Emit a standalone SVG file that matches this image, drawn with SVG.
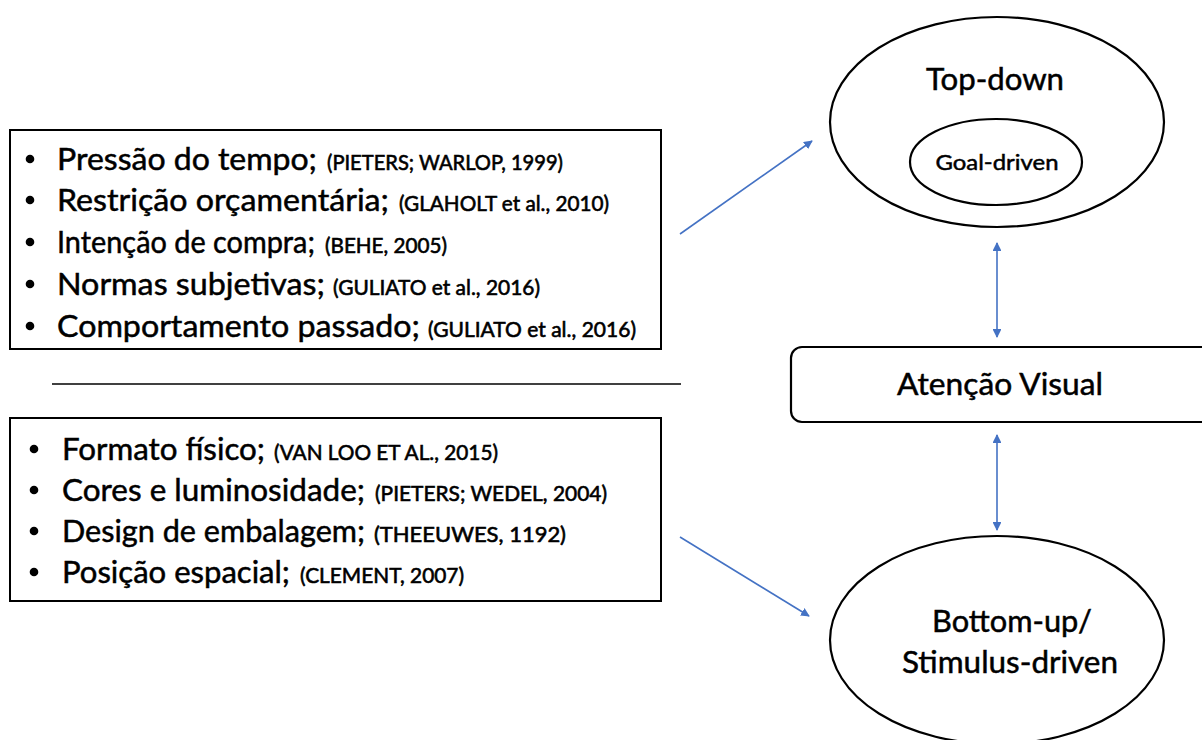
<svg xmlns="http://www.w3.org/2000/svg" width="1202" height="740" viewBox="0 0 1202 740">
  <style>
    .box { fill: #ffffff; stroke: #000000; stroke-width: 2; }
    .shape { fill: none; stroke: #000000; stroke-width: 2.2; }
    .t { font-family: Lato, "Liberation Sans", sans-serif; fill: #000000; stroke: #000000; stroke-width: 0.5; }
    .item { font-size: 31px; }
    .ref { font-size: 21px; stroke-width: 0.6; }
    .big { font-size: 31px; text-anchor: middle; }
    .mid { font-size: 22px; text-anchor: middle; }
    .conn { stroke: #4472C4; stroke-width: 1.6; fill: none; }
    .sep { stroke: #000000; stroke-width: 1.6; }
  </style>
  <defs>
    <marker id="head" viewBox="0 0 10 10" refX="9" refY="5" markerWidth="5.5" markerHeight="5.5" orient="auto-start-reverse" markerUnits="strokeWidth">
      <path d="M0,0 L10,5 L0,10 z" fill="#4472C4"/>
    </marker>
  </defs>

  <rect width="1202" height="740" fill="#ffffff"/>

  <!-- goal-driven factors -->
  <g id="top-factors">
    <rect class="box" x="10" y="130" width="651" height="219"/>
    <g fill="#000000">
      <circle cx="30" cy="159" r="4.3"/>
      <circle cx="30" cy="200" r="4.3"/>
      <circle cx="30" cy="242" r="4.3"/>
      <circle cx="30" cy="284" r="4.3"/>
      <circle cx="30" cy="326" r="4.3"/>
    </g>
    <text class="t item" x="57" y="170" textLength="260" lengthAdjust="spacingAndGlyphs">Pressão do tempo;</text>
    <text class="t ref" x="327" y="170" textLength="236" lengthAdjust="spacingAndGlyphs">(PIETERS; WARLOP, 1999)</text>
    <text class="t item" x="57" y="211" textLength="332" lengthAdjust="spacingAndGlyphs">Restrição orçamentária;</text>
    <text class="t ref" x="399" y="211" textLength="210" lengthAdjust="spacingAndGlyphs">(GLAHOLT et al., 2010)</text>
    <text class="t item" x="57" y="253" textLength="258" lengthAdjust="spacingAndGlyphs">Intenção de compra;</text>
    <text class="t ref" x="325" y="253" textLength="122" lengthAdjust="spacingAndGlyphs">(BEHE, 2005)</text>
    <text class="t item" x="57" y="295" textLength="268" lengthAdjust="spacingAndGlyphs">Normas subjetivas;</text>
    <text class="t ref" x="333" y="295" textLength="207" lengthAdjust="spacingAndGlyphs">(GULIATO et al., 2016)</text>
    <text class="t item" x="57" y="337" textLength="363" lengthAdjust="spacingAndGlyphs">Comportamento passado;</text>
    <text class="t ref" x="428" y="337" textLength="208" lengthAdjust="spacingAndGlyphs">(GULIATO et al., 2016)</text>
  </g>

  <!-- stimulus-driven factors -->
  <g id="bottom-factors">
    <rect class="box" x="10" y="418" width="651" height="183"/>
    <g fill="#000000">
      <circle cx="34" cy="449" r="4.3"/>
      <circle cx="34" cy="490" r="4.3"/>
      <circle cx="34" cy="531" r="4.3"/>
      <circle cx="34" cy="572" r="4.3"/>
    </g>
    <text class="t item" x="62" y="460" textLength="203" lengthAdjust="spacingAndGlyphs">Formato físico;</text>
    <text class="t ref" x="274" y="460" textLength="224" lengthAdjust="spacingAndGlyphs">(VAN LOO ET AL., 2015)</text>
    <text class="t item" x="62" y="501" textLength="303" lengthAdjust="spacingAndGlyphs">Cores e luminosidade;</text>
    <text class="t ref" x="375" y="501" textLength="232" lengthAdjust="spacingAndGlyphs">(PIETERS; WEDEL, 2004)</text>
    <text class="t item" x="62" y="542" textLength="303" lengthAdjust="spacingAndGlyphs">Design de embalagem;</text>
    <text class="t ref" x="374" y="542" textLength="192" lengthAdjust="spacingAndGlyphs">(THEEUWES, 1192)</text>
    <text class="t item" x="62" y="583" textLength="228" lengthAdjust="spacingAndGlyphs">Posição espacial;</text>
    <text class="t ref" x="300" y="583" textLength="164" lengthAdjust="spacingAndGlyphs">(CLEMENT, 2007)</text>
  </g>

  <!-- divider between the two factor lists -->
  <line id="divider" class="sep" x1="52" y1="384" x2="681" y2="384"/>

  <g id="top-down">
    <ellipse class="shape" cx="997" cy="122" rx="167" ry="105"/>
    <text class="t big" x="995" y="90" textLength="138" lengthAdjust="spacingAndGlyphs">Top-down</text>
  </g>

  <g id="goal-driven">
    <ellipse class="shape" cx="996" cy="162" rx="86" ry="43"/>
    <text class="t mid" x="997" y="170" textLength="123" lengthAdjust="spacingAndGlyphs">Goal-driven</text>
  </g>

  <g id="atencao-visual">
    <rect class="shape" x="791" y="347" width="424" height="75" rx="11" ry="11"/>
    <text class="t big" x="1000" y="395" textLength="206" lengthAdjust="spacingAndGlyphs">Atenção Visual</text>
  </g>

  <g id="bottom-up">
    <ellipse class="shape" cx="997" cy="640" rx="167" ry="104"/>
    <text class="t big" x="1012" y="632" textLength="160" lengthAdjust="spacingAndGlyphs">Bottom-up/</text>
    <text class="t big" x="1010" y="673" textLength="216" lengthAdjust="spacingAndGlyphs">Stimulus-driven</text>
  </g>

  <g id="connectors">
    <line class="conn" x1="680" y1="234" x2="812" y2="141" marker-end="url(#head)"/>
    <line class="conn" x1="680" y1="537" x2="809" y2="616" marker-end="url(#head)"/>
    <line class="conn" x1="997" y1="243" x2="997" y2="337" marker-start="url(#head)" marker-end="url(#head)"/>
    <line class="conn" x1="997" y1="435" x2="997" y2="530" marker-start="url(#head)" marker-end="url(#head)"/>
  </g>
</svg>
